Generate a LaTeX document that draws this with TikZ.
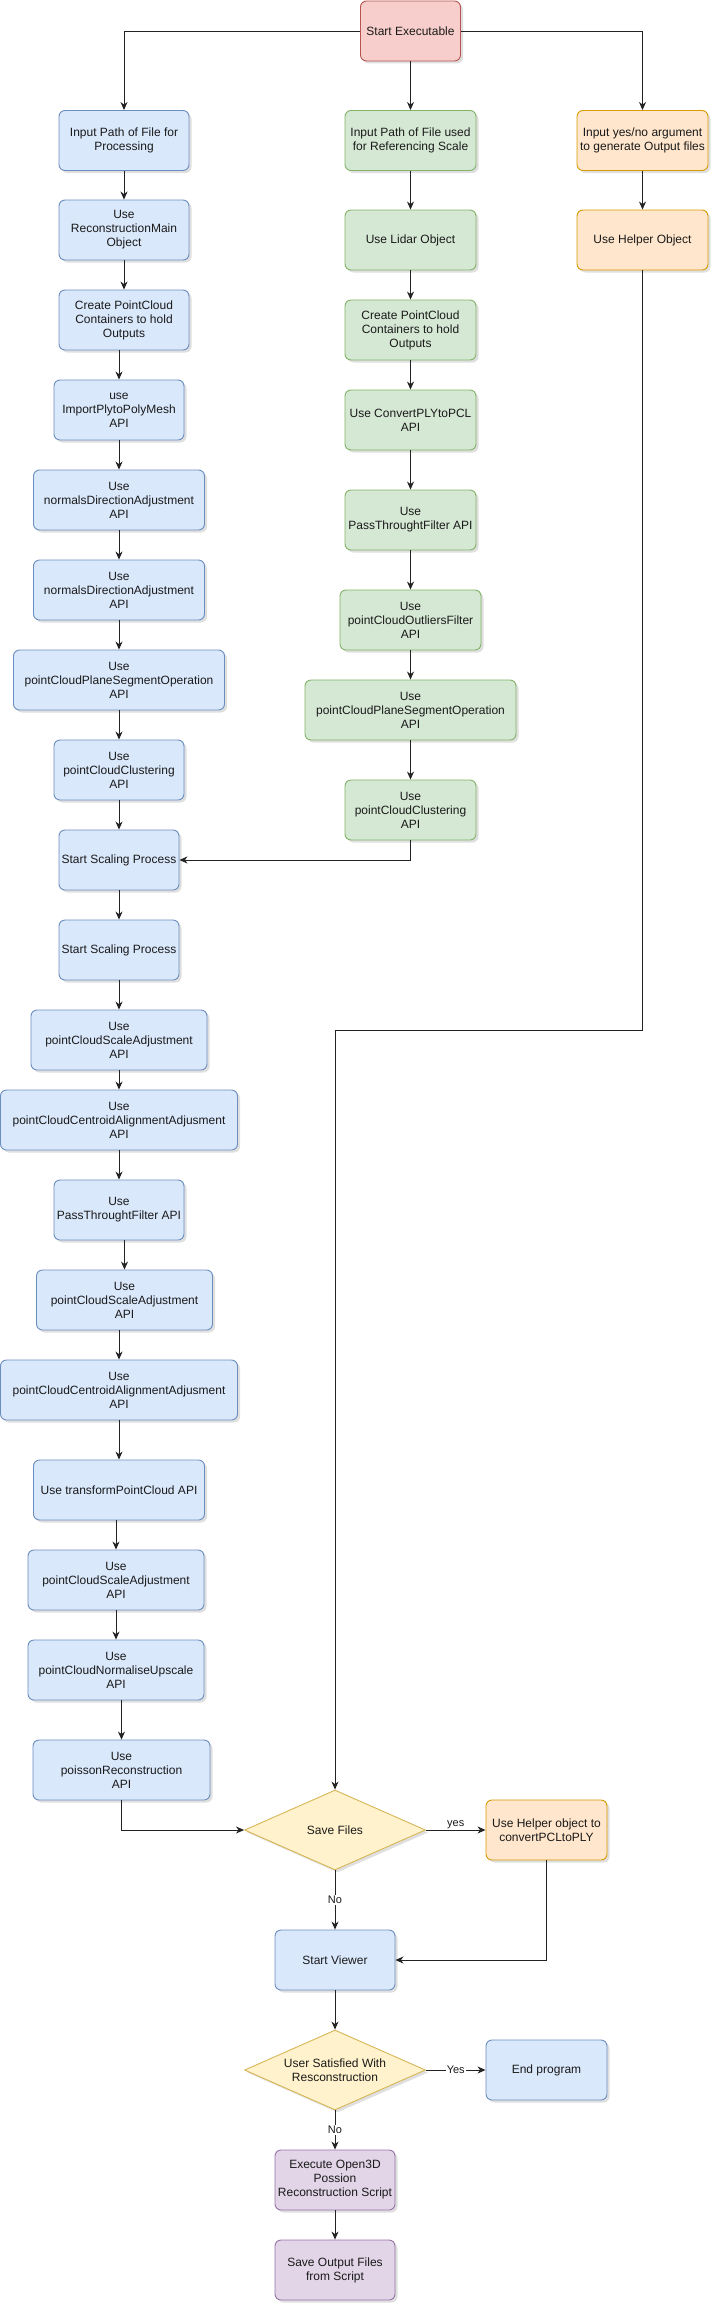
\documentclass[tikz,border=0pt]{standalone}
\usepackage{fontspec}
\setmainfont{Liberation Sans}
\usetikzlibrary{shapes.geometric,arrows.meta,shadows}
\definecolor{bluefill}{HTML}{DAE8FC}\definecolor{bluedraw}{HTML}{6C8EBF}
\definecolor{greenfill}{HTML}{D5E8D4}\definecolor{greendraw}{HTML}{82B366}
\definecolor{orangefill}{HTML}{FFE6CC}\definecolor{orangedraw}{HTML}{D79B00}
\definecolor{redfill}{HTML}{F8CECC}\definecolor{reddraw}{HTML}{B85450}
\definecolor{yellowfill}{HTML}{FFF2CC}\definecolor{yellowdraw}{HTML}{D6B656}
\definecolor{purplefill}{HTML}{E1D5E7}\definecolor{purpledraw}{HTML}{9673A6}
\definecolor{linec}{HTML}{222222}
\definecolor{txtc}{HTML}{1A1A1A}
\tikzset{
  base/.style={line width=0.9pt, align=center, inner sep=1pt, text=txtc,
    drop shadow={shadow xshift=2.5pt, shadow yshift=-2.5pt, opacity=0.25, fill=gray}},
  box/.style={base, rectangle, rounded corners=6pt, minimum height=60pt},
  bluebox/.style={box, fill=bluefill, draw=bluedraw},
  greenbox/.style={box, fill=greenfill, draw=greendraw},
  orangebox/.style={box, fill=orangefill, draw=orangedraw},
  redbox/.style={box, fill=redfill, draw=reddraw},
  purplebox/.style={box, fill=purplefill, draw=purpledraw},
  decision/.style={base, diamond, aspect=2.26, minimum width=181pt, minimum height=80pt, inner sep=0pt, fill=yellowfill, draw=yellowdraw},
  arr/.style={draw=linec, line width=0.9pt, -{Stealth[length=8pt,width=7pt,inset=2.5pt]}},
  lbl/.style={font=\fontsize{11}{13}\selectfont, text=txtc, inner sep=1pt},
  lblw/.style={lbl, fill=white}
}
\begin{document}
\begin{tikzpicture}[x=1pt,y=-1pt,font=\fontsize{12}{14}\selectfont]
\useasboundingbox (0,0) rectangle (715,2312);
% top
\node[redbox, minimum width=100pt] (S) at (410.5,31) {Start Executable};
% left column
\node[bluebox, minimum width=130pt] (L1) at (124,140.5) {Input Path of File for\\Processing};
\node[bluebox, minimum width=130pt] (L2) at (124,230) {Use\\ReconstructionMain\\Object};
\node[bluebox, minimum width=130pt] (L3) at (124,320) {Create PointCloud\\Containers to hold\\Outputs};
\node[bluebox, minimum width=130pt] (L4) at (119,410) {use\\ImportPlytoPolyMesh\\API};
\node[bluebox, minimum width=171pt] (L5) at (119,500) {Use\\normalsDirectionAdjustment\\API};
\node[bluebox, minimum width=171pt] (L6) at (119,590) {Use\\normalsDirectionAdjustment\\API};
\node[bluebox, minimum width=211pt] (L7) at (119,680) {Use\\pointCloudPlaneSegmentOperation\\API};
\node[bluebox, minimum width=130pt] (L8) at (119,770) {Use\\pointCloudClustering\\API};
\node[bluebox, minimum width=120pt] (L9) at (119,860) {Start Scaling Process};
\node[bluebox, minimum width=120pt] (L10) at (119,950) {Start Scaling Process};
\node[bluebox, minimum width=176pt] (L11) at (119,1040) {Use\\pointCloudScaleAdjustment\\API};
\node[bluebox, minimum width=237pt] (L12) at (119,1120) {Use\\pointCloudCentroidAlignmentAdjusment\\API};
\node[bluebox, minimum width=130pt] (L13) at (119,1210) {Use\\PassThroughtFilter API};
\node[bluebox, minimum width=176pt] (L14) at (124.5,1300) {Use\\pointCloudScaleAdjustment\\API};
\node[bluebox, minimum width=237pt] (L15) at (119,1390) {Use\\pointCloudCentroidAlignmentAdjusment\\API};
\node[bluebox, minimum width=171pt] (L16) at (119,1490) {Use transformPointCloud API};
\node[bluebox, minimum width=176pt] (L17) at (116,1580) {Use\\pointCloudScaleAdjustment\\API};
\node[bluebox, minimum width=176pt] (L18) at (116,1670) {Use\\pointCloudNormaliseUpscale\\API};
\node[bluebox, minimum width=177pt] (L19) at (121.5,1770) {Use\\poissonReconstruction\\API};
% middle column
\node[greenbox, minimum width=131pt] (M1) at (410.5,140.5) {Input Path of File used\\for Referencing Scale};
\node[greenbox, minimum width=131pt] (M2) at (410.5,240) {Use Lidar Object};
\node[greenbox, minimum width=131pt] (M3) at (410.5,330) {Create PointCloud\\Containers to hold\\Outputs};
\node[greenbox, minimum width=131pt] (M4) at (410.5,420) {Use ConvertPLYtoPCL\\API};
\node[greenbox, minimum width=131pt] (M5) at (410.5,520) {Use\\PassThroughtFilter API};
\node[greenbox, minimum width=141pt] (M6) at (410.5,620) {Use\\pointCloudOutliersFilter\\API};
\node[greenbox, minimum width=211pt] (M7) at (410.5,710) {Use\\pointCloudPlaneSegmentOperation\\API};
\node[greenbox, minimum width=131pt] (M8) at (410.5,810) {Use\\pointCloudClustering\\API};
% right column
\node[orangebox, minimum width=131pt] (R1) at (642.5,140.5) {Input yes/no argument\\to generate Output files};
\node[orangebox, minimum width=131pt] (R2) at (642.5,240) {Use Helper Object};
% bottom
\node[decision] (D1) at (335,1830) {Save Files};
\node[orangebox, minimum width=121pt] (H) at (546.5,1830) {Use Helper object to\\convertPCLtoPLY};
\node[bluebox, minimum width=120pt] (SV) at (335,1960) {Start Viewer};
\node[decision] (D2) at (335,2070) {User Satisfied With\\Resconstruction};
\node[bluebox, minimum width=121pt] (E) at (546.5,2070) {End program};
\node[purplebox, minimum width=120pt] (X) at (335,2180) {Execute Open3D\\Possion\\Reconstruction Script};
\node[purplebox, minimum width=120pt] (SO) at (335,2270) {Save Output Files\\from Script};
\coordinate (bend) at (642.5,1030);
% connectors from start
\draw[arr] (S.west) -| (L1.north);
\draw[arr] (S.south) -- (M1.north);
\draw[arr] (S.east) -| (R1.north);
% left chain
\foreach \a/\b in {L1/L2,L2/L3,L3/L4,L4/L5,L5/L6,L6/L7,L7/L8,L8/L9,L9/L10,L10/L11,L11/L12,L12/L13,L13/L14,L14/L15,L15/L16,L16/L17,L17/L18,L18/L19}
  \draw[arr] (\a.south -| \b.north) -- (\b.north);
% middle chain
\foreach \a/\b in {M1/M2,M2/M3,M3/M4,M4/M5,M5/M6,M6/M7,M7/M8}
  \draw[arr] (\a.south) -- (\b.north);
\draw[arr] (M8.south) |- (L9.east);
% right chain
\draw[arr] (R1.south) -- (R2.north);
\draw[arr] (R2.south) -- (bend) -| (D1.north);
% bottom
\draw[arr] (L19.south) |- (D1.west);
\draw[arr] (D1.east) -- node[lbl, above] {yes} (H.west);
\draw[arr] (D1.south) -- node[lblw] {No} (SV.north);
\draw[arr] (H.south) |- (SV.east);
\draw[arr] (SV.south) -- (D2.north);
\draw[arr] (D2.east) -- node[lblw] {Yes} (E.west);
\draw[arr] (D2.south) -- node[lblw] {No} (X.north);
\draw[arr] (X.south) -- (SO.north);
\end{tikzpicture}
\end{document}
